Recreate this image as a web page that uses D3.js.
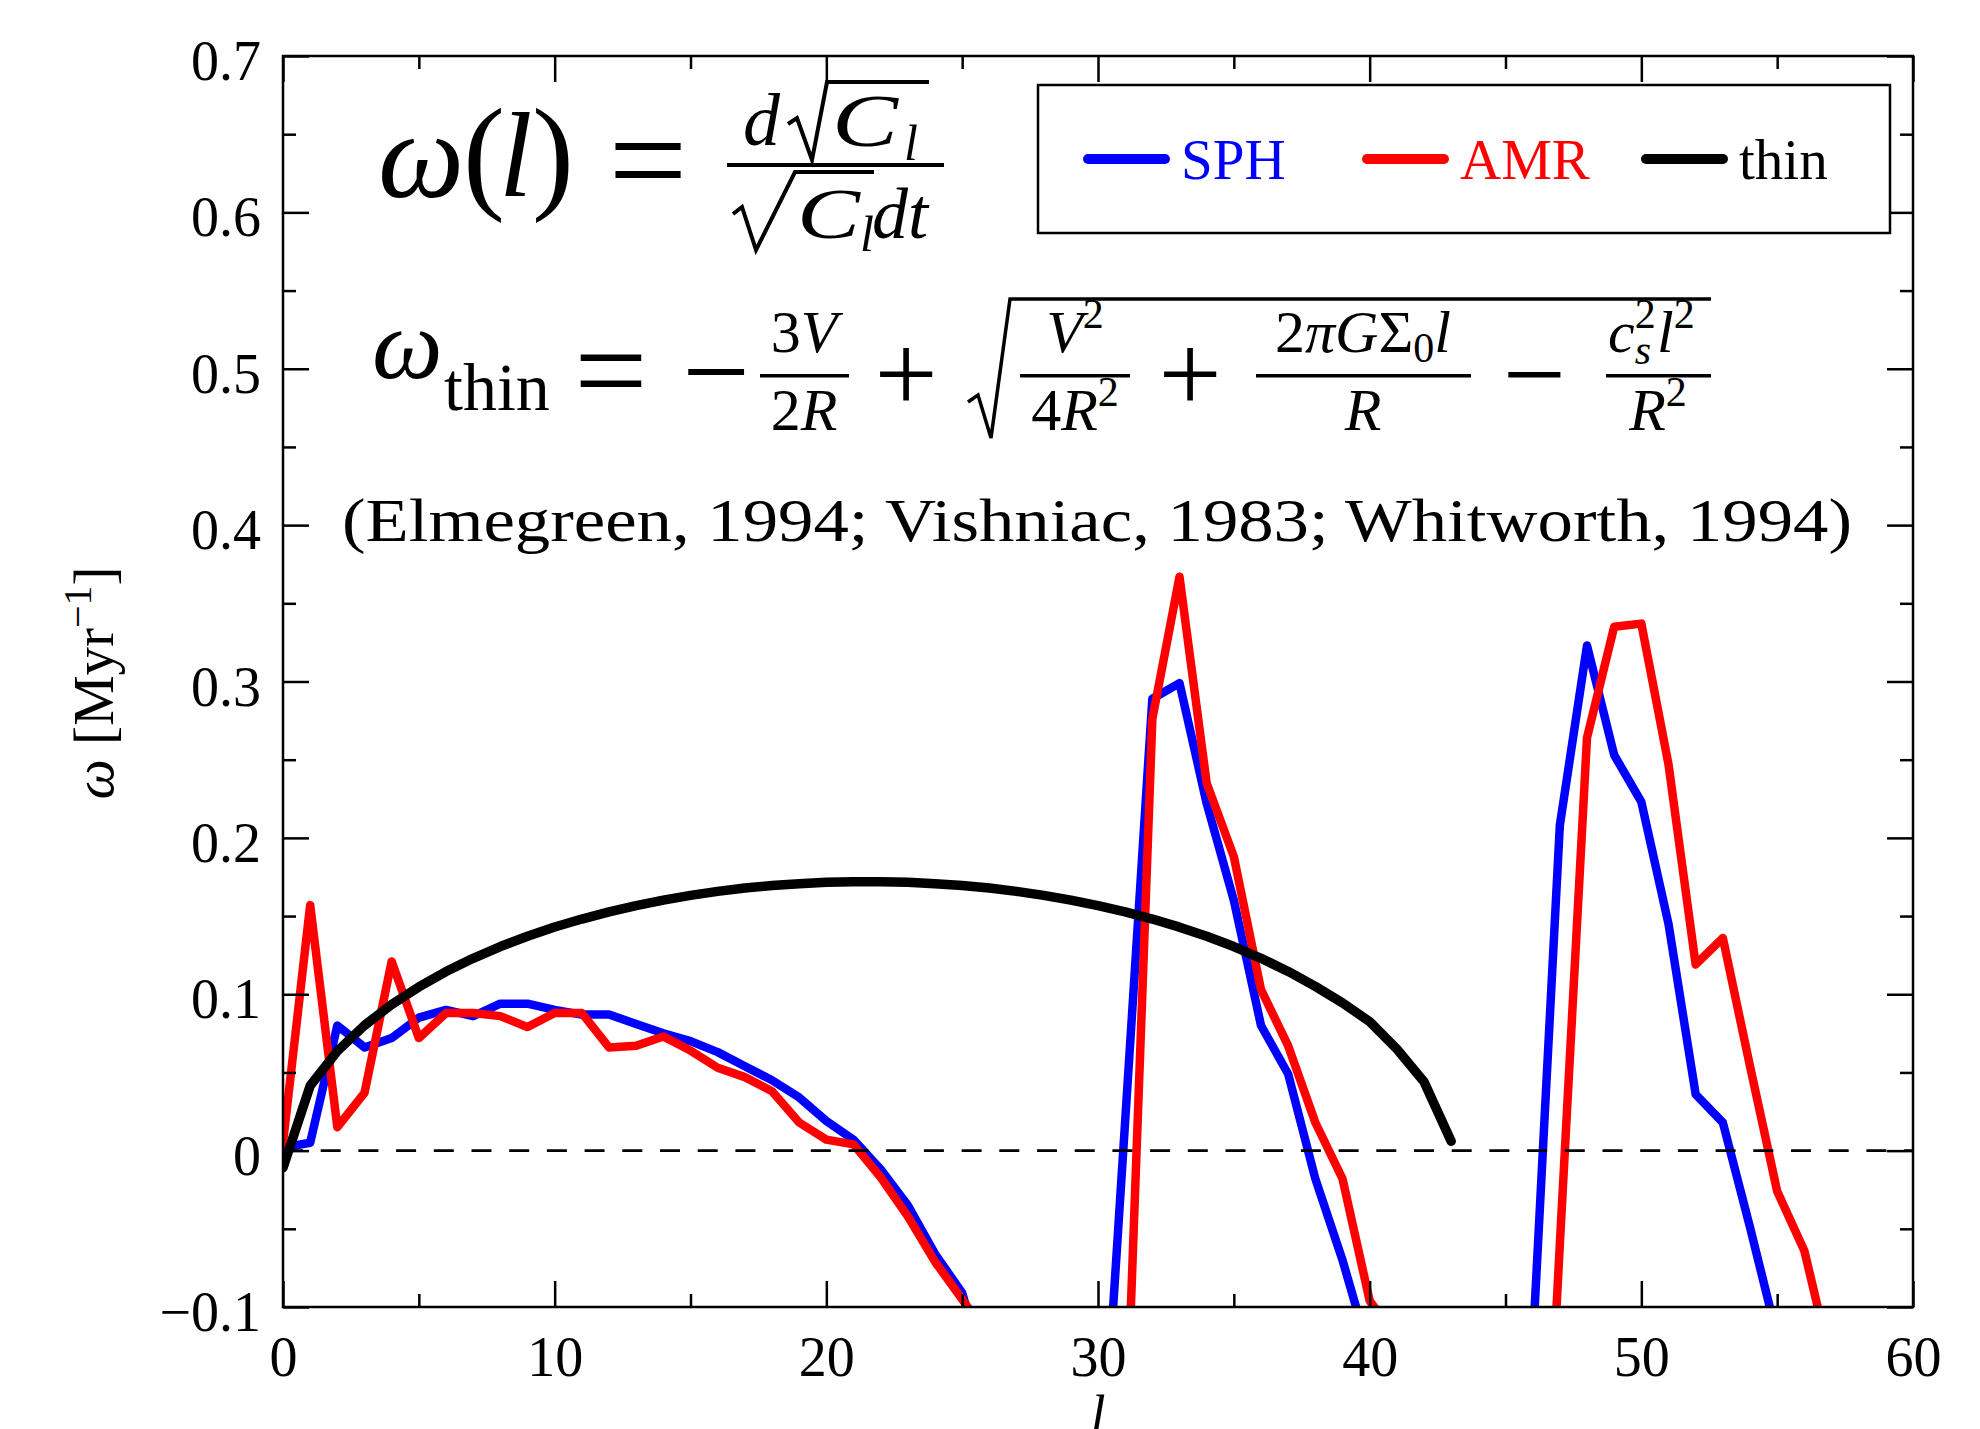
<!DOCTYPE html>
<html>
<head>
<meta charset="utf-8">
<script src="https://cdn.jsdelivr.net/npm/d3@7"></script>
<style>
  body { margin: 0; background: #fff; }
  text { font-family: "Liberation Serif", "DejaVu Serif", serif; }
</style>
</head>
<body>
<div id="chart"></div>
<script>
var svgWidth = 1980;
var svgHeight = 1429;
var margin = ({top: 56, right: 67, bottom: 122, left: 283});

// mode number l
var modes = [0,1,2,3,4,5,6,7,8,9,10,11,12,13,14,15,16,17,18,19,20,21,22,23,24,25,26,27,28,29,
    30,31,32,33,34,35,36,37,38,39,40,41,42,43,44,45,46,47,48,49,50,51,52,53,54,55,56,57];
// growth rate omega [Myr^-1], SPH run
var sph = [0.002,0.005,0.080,0.066,0.072,0.085,0.090,0.086,0.094,0.094,
    0.090,0.087,0.087,0.081,0.075,0.070,0.063,0.054,0.045,0.034,
    0.019,0.007,-0.012,-0.035,-0.066,-0.091,-0.15,-0.2,-0.25,-0.3,
    -0.25,0.019,0.289,0.299,0.222,0.160,0.080,0.049,-0.018,-0.070,
    -0.13,-0.2,-0.25,-0.3,-0.3,-0.45,-0.125,0.208,0.323,0.253,
    0.223,0.145,0.036,0.018,-0.049,-0.119,-0.2,-0.25];
// AMR run
var amr = [0.005,0.157,0.015,0.037,0.121,0.072,0.088,0.088,0.086,0.079,
    0.088,0.088,0.066,0.067,0.073,0.064,0.053,0.047,0.038,0.018,
    0.007,0.004,-0.017,-0.042,-0.071,-0.095,-0.12,-0.18,-0.25,-0.3,
    -0.3,-0.2,0.276,0.367,0.235,0.188,0.103,0.067,0.018,-0.018,
    -0.096,-0.12,-0.2,-0.25,-0.3,-0.35,-0.39,-0.06,0.264,0.335,
    0.337,0.247,0.119,0.136,0.054,-0.026,-0.064,-0.137];
// thin shell dispersion relation, l = 0..43
var thin = [-0.0110,0.0415,0.0636,0.0801,0.0935,0.1047,0.1145,0.1230,0.1305,0.1371,
    0.1430,0.1481,0.1527,0.1567,0.1602,0.1632,0.1658,0.1679,0.1695,0.1707,
    0.1716,0.1720,0.1720,0.1716,0.1707,0.1695,0.1679,0.1658,0.1632,0.1602,
    0.1567,0.1527,0.1481,0.1429,0.1371,0.1305,0.1230,0.1146,0.1050,0.0945,
    0.0825,0.0650,0.0440,0.0060];

var xMajor = [0,10,20,30,40,50,60];
var xMinor = [5,15,25,35,45,55];
var yMajor = [-0.1,0,0.1,0.2,0.3,0.4,0.5,0.6,0.7];
var yMinor = [-0.05,0.05,0.15,0.25,0.35,0.45,0.55,0.65];

var seriesNames = ["SPH","AMR","thin"];
var colors = ["#0000ff","#ff0000","#000000"];

main();

function main(){
    var x = d3.scaleLinear().domain([0,60]).range([margin.left, svgWidth-margin.right]);
    var y = d3.scaleLinear().domain([-0.1,0.7]).range([svgHeight-margin.bottom, margin.top]);

    var svg = d3.select("#chart").append("svg")
        .attr("width", svgWidth)
        .attr("height", svgHeight);
    svg.append("rect").attr("width",svgWidth).attr("height",svgHeight).attr("fill","white");

    svg.append("defs").append("clipPath").attr("id","plotclip")
        .append("rect")
        .attr("x", x(0)).attr("y", y(0.7))
        .attr("width", x(60)-x(0)).attr("height", y(-0.1)-y(0.7));

    var tables = [
        modes.map((l,i)=>({l:l, w:sph[i]})),
        modes.map((l,i)=>({l:l, w:amr[i]})),
        thin.map((w,i)=>({l:modes[i], w:w}))
    ];
    var line = d3.line().x(d=>x(d.l)).y(d=>y(d.w));

    var plot = svg.append("g").attr("clip-path","url(#plotclip)");
    plot.selectAll(".series")
        .data(tables)
        .enter().append("path")
        .attr("class","series")
        .attr("d", line)
        .attr("fill","none")
        .attr("stroke",(d,i)=>colors[i])
        .attr("stroke-width",(d,i)=> i==2 ? 9.5 : 8.5)
        .attr("stroke-linejoin","round")
        .attr("stroke-linecap","round");

    // zero line
    plot.append("line")
        .attr("x1",x(0)).attr("x2",x(60))
        .attr("y1",y(0)).attr("y2",y(0))
        .attr("stroke","black")
        .attr("stroke-width",2.6)
        .attr("stroke-dasharray","20,17.7");

    // axes, ticks inward on all four sides
    var fmt = d => d === 0 ? "0" : d3.format(".1f")(d);
    function axisStyle(g){
        g.select(".domain").remove();
        g.selectAll("line").attr("stroke","black").attr("stroke-width",2.5);
        g.selectAll("text").attr("font-family","Liberation Serif").attr("font-size",56).attr("fill","black");
    }
    svg.append("g").attr("transform","translate(0,"+y(-0.1)+")")
        .call(d3.axisBottom(x).tickValues(xMajor).tickSize(-26).tickPadding(29).tickFormat(d3.format("d")))
        .call(axisStyle);
    svg.append("g").attr("transform","translate(0,"+y(-0.1)+")")
        .call(d3.axisBottom(x).tickValues(xMinor).tickSize(-13).tickFormat(""))
        .call(axisStyle);
    svg.append("g").attr("transform","translate(0,"+y(0.7)+")")
        .call(d3.axisTop(x).tickValues(xMajor).tickSize(-26).tickFormat(""))
        .call(axisStyle);
    svg.append("g").attr("transform","translate(0,"+y(0.7)+")")
        .call(d3.axisTop(x).tickValues(xMinor).tickSize(-13).tickFormat(""))
        .call(axisStyle);
    var yl = svg.append("g").attr("transform","translate("+x(0)+",0)")
        .call(d3.axisLeft(y).tickValues(yMajor).tickSize(-26).tickPadding(22).tickFormat(fmt))
        .call(axisStyle);
    yl.selectAll("text").attr("dy","0.42em");
    svg.append("g").attr("transform","translate("+x(0)+",0)")
        .call(d3.axisLeft(y).tickValues(yMinor).tickSize(-13).tickFormat(""))
        .call(axisStyle);
    svg.append("g").attr("transform","translate("+x(60)+",0)")
        .call(d3.axisRight(y).tickValues(yMajor).tickSize(-26).tickFormat(""))
        .call(axisStyle);
    svg.append("g").attr("transform","translate("+x(60)+",0)")
        .call(d3.axisRight(y).tickValues(yMinor).tickSize(-13).tickFormat(""))
        .call(axisStyle);

    svg.append("rect")
        .attr("x", x(0)).attr("y", y(0.7))
        .attr("width", x(60)-x(0)).attr("height", y(-0.1)-y(0.7))
        .attr("fill","none").attr("stroke","black").attr("stroke-width",2.5);

    // axis titles
    var ylab = svg.append("text")
        .attr("transform","translate(113,683) rotate(-90)")
        .attr("text-anchor","middle")
        .attr("font-size",57);
    ylab.append("tspan").attr("font-style","italic").text("ω");
    ylab.append("tspan").text(" [Myr");
    ylab.append("tspan").attr("dy",-22).attr("font-size",40).text("−1");
    ylab.append("tspan").attr("dy",22).text("]");

    svg.append("text").attr("x",x(30)).attr("y",1433)
        .attr("text-anchor","middle").attr("font-size",54).attr("font-style","italic").text("l");

    legendmaker(svg);
    formulas(svg);
}

function legendmaker(svg){
    svg.append("rect")
        .attr("x",1038).attr("y",85).attr("width",852).attr("height",148)
        .attr("fill","white").attr("stroke","black").attr("stroke-width",2.5);
    var lx = [1088,1367,1646];
    var lg = svg.selectAll(".legend")
        .data(seriesNames).enter()
        .append("g").attr("class","legend")
        .attr("transform",(d,i)=>"translate("+lx[i]+",159)");
    lg.append("line")
        .attr("x1",0).attr("x2",77).attr("y1",0).attr("y2",0)
        .attr("stroke",(d,i)=>colors[i]).attr("stroke-width",10).attr("stroke-linecap","round");
    lg.append("text")
        .attr("x",93).attr("y",20)
        .attr("font-size",57)
        .attr("fill",(d,i)=>colors[i])
        .text(d=>d);
}

function tx(g, x, y, s, fs, italic, anchor){
    return g.append("text").attr("x",x).attr("y",y)
        .attr("font-size",fs)
        .attr("font-style", italic ? "italic" : "normal")
        .attr("text-anchor", anchor || "start")
        .text(s);
}

function formulas(svg){
    var f = svg.append("g").attr("class","formula");
    // omega(l) = d sqrt(C_l) / (sqrt(C_l) dt)
    tx(f, 378, 197, "ω", 122, true);
    tx(f, 463, 196, "(", 126, false);
    tx(f, 499, 196, "l", 120, true);
    tx(f, 532, 196, ")", 126, false);
    tx(f, 648, 207, "=", 140, false, "middle");
    f.append("rect").attr("x",727).attr("y",163).attr("width",217).attr("height",4);
    tx(f, 743, 145, "d", 74, true);
    f.append("path").attr("d","M788,124 L797,118 L812,160 L827,82 L929,82")
        .attr("fill","none").attr("stroke","black").attr("stroke-width",4).attr("stroke-linejoin","miter");
    tx(f, 832, 146, "C", 74, true).attr("textLength",66).attr("lengthAdjust","spacingAndGlyphs");
    tx(f, 904, 160, "l", 50, true);
    f.append("path").attr("d","M733,214 L742,207 L756,250 L795,172 L874,172")
        .attr("fill","none").attr("stroke","black").attr("stroke-width",4).attr("stroke-linejoin","miter");
    tx(f, 797, 238, "C", 72, true).attr("textLength",63).attr("lengthAdjust","spacingAndGlyphs");
    tx(f, 860, 251, "l", 50, true);
    tx(f, 872, 238, "dt", 72, true);

    // omega_thin
    tx(f, 372, 378, "ω", 100, true);
    tx(f, 444, 410, "thin", 68, false);
    tx(f, 611, 414, "=", 130, false, "middle");
    tx(f, 716, 412, "−", 120, false, "middle");
    var bars = [[760,849],[1020,1130],[1256,1471],[1606,1711]];
    f.selectAll(".fbar").data(bars).enter().append("rect")
        .attr("class","fbar")
        .attr("x",d=>d[0]).attr("y",374).attr("width",d=>d[1]-d[0]).attr("height",3.5);
    var t;
    t = tx(f, 804, 352, "3", 60, false, "middle");
    t.append("tspan").attr("font-style","italic").text("V");
    t = tx(f, 804, 430, "2", 60, false, "middle");
    t.append("tspan").attr("font-style","italic").text("R");
    tx(f, 906, 412, "+", 112, false, "middle");
    f.append("path").attr("d","M968,402 L978,395 L991,438 L1010,299 L1711,299")
        .attr("fill","none").attr("stroke","black").attr("stroke-width",3.5);
    t = tx(f, 1075, 352, "V", 60, true, "middle");
    t.append("tspan").attr("font-style","normal").attr("font-size",42).attr("dy",-24).text("2");
    t = tx(f, 1075, 430, "4", 60, false, "middle");
    t.append("tspan").attr("font-style","italic").text("R");
    t.append("tspan").attr("font-size",42).attr("dy",-24).text("2");
    tx(f, 1190, 412, "+", 112, false, "middle");
    t = tx(f, 1363, 352, "2", 60, false, "middle");
    t.append("tspan").attr("font-style","italic").text("πG");
    t.append("tspan").text("Σ");
    t.append("tspan").attr("font-size",42).attr("dy",10).text("0");
    t.append("tspan").attr("font-style","italic").attr("dy",-10).text("l");
    tx(f, 1363, 430, "R", 60, true, "middle");
    tx(f, 1534, 412, "−", 112, false, "middle");
    t = tx(f, 1608, 352, "c", 60, true);
    t.append("tspan").attr("font-style","normal").attr("font-size",42).attr("dy",-24).text("2");
    t.append("tspan").attr("font-size",42).attr("dx",-21).attr("dy",36).text("s");
    t.append("tspan").attr("dx",6).attr("dy",-12).text("l");
    t.append("tspan").attr("font-style","normal").attr("font-size",42).attr("dy",-24).text("2");
    t = tx(f, 1658, 430, "R", 60, true, "middle");
    t.append("tspan").attr("font-style","normal").attr("font-size",42).attr("dy",-24).text("2");

    // citation
    svg.append("text").attr("x",342).attr("y",541)
        .attr("font-size",62)
        .attr("textLength",1510).attr("lengthAdjust","spacingAndGlyphs")
        .text("(Elmegreen, 1994; Vishniac, 1983; Whitworth, 1994)");
}
</script>
</body>
</html>
